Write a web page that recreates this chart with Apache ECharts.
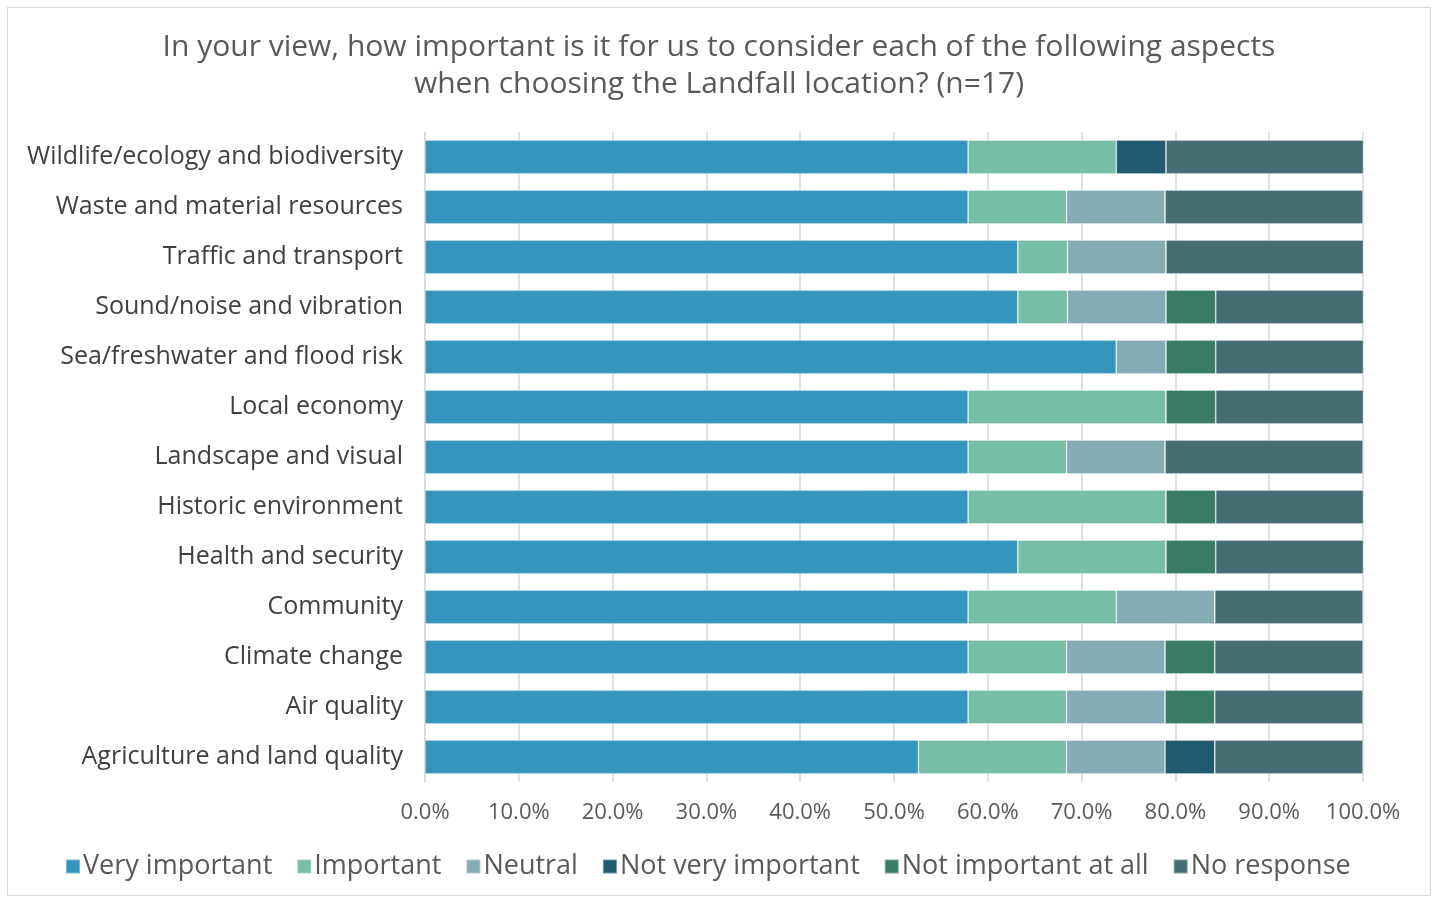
<!DOCTYPE html>
<html><head><meta charset="utf-8">
<script src="https://cdn.jsdelivr.net/npm/echarts@6/dist/echarts.min.js"></script>
<style>
html,body{margin:0;padding:0;background:#fff;}
#frame{position:absolute;left:7px;top:7px;width:1424px;height:889px;border:1px solid #d9d9d9;box-sizing:border-box;}
#c{position:absolute;left:0;top:0;width:1438px;height:901px;}
</style></head>
<body><div id="frame"></div><div id="c"></div>
<script>
const categories = ["Agriculture and land quality","Air quality","Climate change","Community","Health and security","Historic environment","Landscape and visual","Local economy","Sea/freshwater and flood risk","Sound/noise and vibration","Traffic and transport","Waste and material resources","Wildlife/ecology and biodiversity"];
const seriesNames = ["Very important","Important","Neutral","Not very important","Not important at all","No response"];
const veryImportant   = [52.6,57.9,57.9,57.9,63.2,57.9,57.9,57.9,73.7,63.2,63.2,57.9,57.9];
const important       = [15.8,10.5,10.5,15.8,15.8,21.1,10.5,21.1,0,5.3,5.3,10.5,15.8];
const neutral         = [10.5,10.5,10.5,10.5,0,0,10.5,0,5.3,10.5,10.5,10.5,0];
const notVeryImportant= [5.3,0,0,0,0,0,0,0,0,0,0,0,5.3];
const notImportantAtAll=[0,5.3,5.3,0,5.3,5.3,0,5.3,5.3,5.3,0,0,0];
const noResponse      = [15.8,15.8,15.8,15.8,15.8,15.8,21.1,15.8,15.8,15.8,21.1,21.1,21.1];
const xTicks = [0,10,20,30,40,50,60,70,80,90,100];
const colors = ["#3595bc","#76bea5","#85abb5","#1f5a70","#3a7d66","#476d74"];
const values = [veryImportant,important,neutral,notVeryImportant,notImportantAtAll,noResponse];
const FONT = "Open Sans";
const chart = echarts.init(document.getElementById('c'));
chart.setOption({
  animation:false,
  textStyle:{fontFamily:FONT},
  title:{text:"In your view, how important is it for us to consider each of the following aspects\nwhen choosing the Landfall location? (n=17)",left:'center',top:24,
    textStyle:{fontFamily:FONT,fontSize:30,fontWeight:'normal',color:'#595959',lineHeight:37}},
  legend:{bottom:16,left:60,itemWidth:14,itemHeight:14,itemGap:24,icon:'rect',
    textStyle:{fontFamily:FONT,fontSize:27,color:'#595959',padding:[0,0,0,-2]},data:seriesNames},
  grid:{left:425,right:75,top:132,bottom:119,containLabel:false},
  xAxis:{type:'value',min:0,max:100,interval:10,
    axisLabel:{formatter:v=>v.toFixed(1)+'%',fontSize:22,color:'#595959',margin:20,fontFamily:FONT},
    splitLine:{show:true,lineStyle:{color:'#d9d9d9',width:1.5}},axisLine:{show:false},axisTick:{show:false}},
  yAxis:{type:'category',data:categories,
    axisLabel:{fontSize:25,color:'#404040',margin:22,fontFamily:FONT,padding:[3,0,0,0]},
    axisLine:{show:true,lineStyle:{color:'#d9d9d9',width:1.5}},axisTick:{show:false}},
  series:seriesNames.map((n,i)=>({name:n,type:'bar',stack:'t',data:values[i],barWidth:34,
    itemStyle:{color:colors[i],borderColor:'rgba(255,255,255,0.35)',borderWidth:0.8}}))
});
</script></body></html>
